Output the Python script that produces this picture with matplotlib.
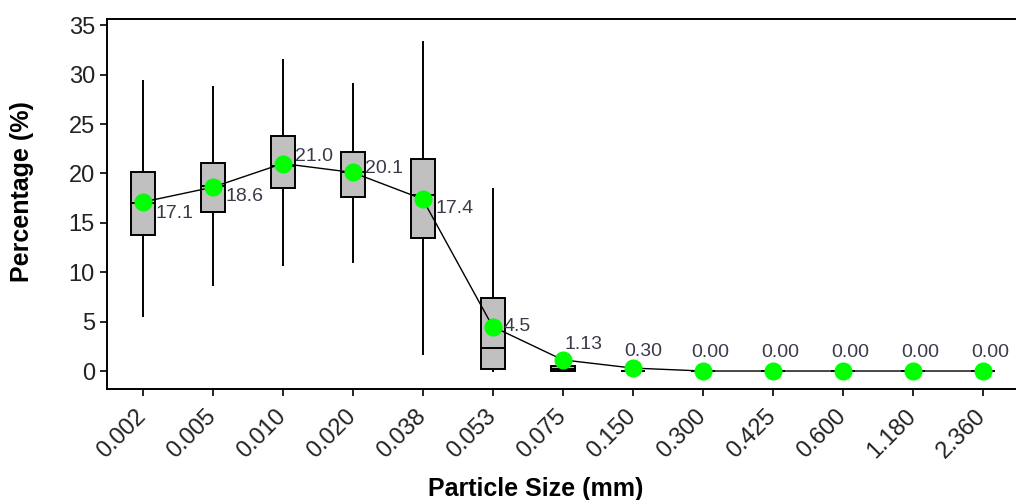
"""Particle size distribution box plot with mean line."""
import matplotlib
matplotlib.use("Agg")
import matplotlib.pyplot as plt

plt.rcParams["font.family"] = ["Liberation Sans", "DejaVu Sans"]

sizes = ["0.002", "0.005", "0.010", "0.020", "0.038", "0.053", "0.075",
         "0.150", "0.300", "0.425", "0.600", "1.180", "2.360"]
q1 = [13.75, 16.1, 18.55, 17.6, 13.5, 0.23, 0.0, 0.0, 0.0, 0.0, 0.0, 0.0, 0.0]
med = [17.0, 18.7, 20.8, 20.1, 17.8, 2.36, 0.2, 0.0, 0.0, 0.0, 0.0, 0.0, 0.0]
q3 = [20.1, 21.1, 23.8, 22.2, 21.45, 7.35, 0.5, 0.05, 0.0, 0.0, 0.0, 0.0, 0.0]
whis_lo = [5.6, 8.7, 10.7, 11.0, 1.7, 0.0, 0.0, 0.0, 0.0, 0.0, 0.0, 0.0, 0.0]
whis_hi = [29.4, 28.7, 31.5, 29.1, 33.3, 18.4, 0.5, 0.05, 0.0, 0.0, 0.0, 0.0, 0.0]
means = [17.1, 18.6, 21.0, 20.1, 17.4, 4.5, 1.13, 0.30, 0.0, 0.0, 0.0, 0.0, 0.0]
mean_labels = ["17.1", "18.6", "21.0", "20.1", "17.4", "4.5", "1.13", "0.30",
               "0.00", "0.00", "0.00", "0.00", "0.00"]

# label offsets (points) per mean label
offsets = [(5, -8), (5, -7), (5, 5), (5, 3), (5, -7), (4, 0),
           (-3, 11), (-10, 12), (-12, 13), (-12, 13), (-12, 13), (-12, 13), (-12, 13)]

fig = plt.figure(figsize=(10.16, 5.0), dpi=100)
ax = fig.add_axes([0.105, 0.222, 0.9035, 0.7394])

x = list(range(len(sizes)))
stats = [dict(q1=a, med=m, q3=b, whislo=lo, whishi=hi, fliers=[])
         for a, m, b, lo, hi in zip(q1, med, q3, whis_lo, whis_hi)]
ax.bxp(stats, positions=x, widths=0.34, patch_artist=True, showcaps=False,
       showfliers=False, manage_ticks=False,
       boxprops=dict(facecolor="#c0c0c0", edgecolor="black", linewidth=1.4),
       whiskerprops=dict(color="black", linewidth=1.4),
       medianprops=dict(color="black", linewidth=1.4))

ax.plot(x, means, color="black", linewidth=1.0, zorder=3)
ax.plot(x, means, "o", color="#00ff00", markersize=12, zorder=4)

for xi, m, lab, off in zip(x, means, mean_labels, offsets):
    ax.annotate(lab, (xi, m), xytext=(off[0] + 4, off[1]), textcoords="offset points",
                ha="left", va="center", fontsize=14, color="#3a3a4a", zorder=5)

ax.set_xlim(-0.514, 12.6)
ax.set_ylim(-1.82, 35.6)
ax.set_yticks([0, 5, 10, 15, 20, 25, 30, 35])
ax.set_xticks(x)
ax.set_xticklabels(sizes, rotation=45, ha="right", va="center", rotation_mode="anchor")
ax.tick_params(axis="both", labelsize=17, length=5, width=1.2, colors="black",
               labelcolor="#222222")
ax.tick_params(axis="x", pad=12)

for sp in ax.spines.values():
    sp.set_linewidth(1.4)

ax.set_xlabel("Particle Size (mm)", fontsize=18, fontweight="bold")
ax.set_ylabel("Percentage (%)", fontsize=18, fontweight="bold")
ax.xaxis.set_label_coords(0.4677, -0.238)
ax.yaxis.set_label_coords(-0.0792, 0.533)

fig.savefig("out.png", dpi=100)
plt.close(fig)
